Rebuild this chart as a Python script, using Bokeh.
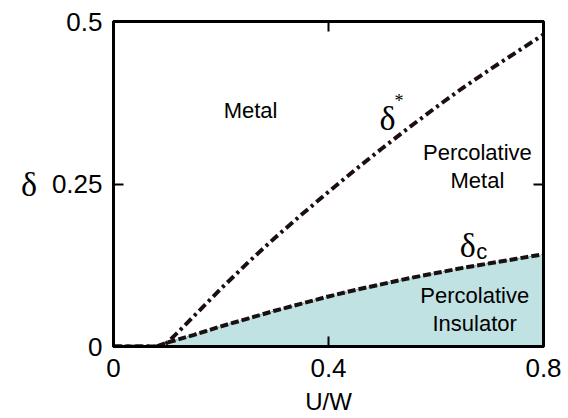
from bokeh.plotting import figure
from bokeh.models import LinearAxis, FixedTicker, Label, Range1d
from bokeh.embed import file_html
from bokeh.resources import INLINE

# ---- data ----
x_star = [0.0, 0.06, 0.09, 0.10, 0.12, 0.15, 0.20, 0.25, 0.30, 0.35, 0.40, 0.45, 0.50,
          0.55, 0.60, 0.65, 0.70, 0.75, 0.80]
d_star = [0.0, 0.0, 0.0, 0.006, 0.022, 0.047, 0.089, 0.129, 0.167, 0.203, 0.238, 0.272, 0.305,
          0.337, 0.368, 0.398, 0.426, 0.453, 0.480]

x_c = [0.0, 0.06, 0.08, 0.10, 0.15, 0.20, 0.25, 0.30, 0.35, 0.40, 0.45, 0.50, 0.55,
       0.60, 0.65, 0.70, 0.75, 0.80]
d_c = [0.0, 0.0, 0.0, 0.006, 0.018, 0.031, 0.043, 0.055, 0.066, 0.077, 0.087, 0.096, 0.105,
       0.113, 0.121, 0.128, 0.135, 0.142]

x_ticks = [0, 0.4, 0.8]
x_tick_labels = ["0", "0.4", "0.8"]
y_ticks = [0, 0.25, 0.5]
y_tick_labels = ["0", "0.25", "0.5"]

region_texts = ["Metal", "Percolative", "Metal", "Percolative", "Insulator"]
region_x = [0.255, 0.677, 0.677, 0.672, 0.672]
region_y = [0.363, 0.298, 0.255, 0.078, 0.035]

SANS = "Liberation Sans"
SERIF = "Liberation Serif"
INK = "#1c0f0f"

p = figure(width=568, height=418, output_backend="svg", toolbar_location=None,
           x_range=Range1d(0, 0.8), y_range=Range1d(0, 0.5),
           min_border_left=113, min_border_right=25, min_border_top=21, min_border_bottom=72)
p.grid.visible = False
p.outline_line_color = "black"
p.outline_line_width = 3
p.background_fill_color = "white"
p.border_fill_color = "white"

# shaded percolative-insulator region
px = [x for x in x_c if x >= 0.08]
py = [d for x, d in zip(x_c, d_c) if x >= 0.08]
poly_x = px + px[::-1]
poly_y = py + [0.0] * len(px)
p.patch(poly_x, poly_y, fill_color="#c0e2e2", line_color="#3a9a9a", line_width=1, line_dash="2 2")

# curves
p.line(x_star, d_star, line_color=INK, line_width=4, line_dash="9 4 3 4")
p.line(x_c, d_c, line_color=INK, line_width=4, line_dash="8 3")

# axes
def style_axis(ax, ticks, labels, show_labels):
    ax.ticker = FixedTicker(ticks=ticks)
    ax.major_tick_in = 10
    ax.major_tick_out = 0
    ax.minor_tick_in = 0
    ax.minor_tick_out = 0
    ax.major_tick_line_width = 2
    ax.axis_line_width = 3
    ax.axis_line_color = "black"
    ax.major_label_overrides = {t: l for t, l in zip(ticks, labels)}
    ax.major_label_text_font = SANS
    ax.major_label_text_color = "black"
    if show_labels:
        ax.major_label_text_font_size = "26px"
    else:
        ax.major_label_text_font_size = "0px"
        ax.major_label_standoff = 0

style_axis(p.xaxis[0], x_ticks, x_tick_labels, True)
style_axis(p.yaxis[0], y_ticks, y_tick_labels, True)
p.xaxis[0].major_label_standoff = 12
p.yaxis[0].major_label_standoff = 11
p.xaxis[0].axis_label = "U/W"
p.xaxis[0].axis_label_text_font = SANS
p.xaxis[0].axis_label_text_font_style = "normal"
p.xaxis[0].axis_label_text_font_size = "24px"
p.xaxis[0].axis_label_text_color = "black"
p.xaxis[0].axis_label_standoff = 8

ya = p.yaxis[0]
ya.axis_label = "δ"
ya.axis_label_text_font = SERIF
ya.axis_label_text_font_style = "normal"
ya.axis_label_text_font_size = "34px"
ya.axis_label_text_color = "black"
ya.axis_label_standoff = 12
try:
    ya.axis_label_orientation = "horizontal"
except Exception:
    pass

top = LinearAxis()
right = LinearAxis()
style_axis(top, x_ticks, ["", "", ""], False)
style_axis(right, y_ticks, ["", "", ""], False)
p.add_layout(top, "above")
p.add_layout(right, "right")

# region labels
for t, xx, yy in zip(region_texts, region_x, region_y):
    p.add_layout(Label(x=xx, y=yy, text=t, text_font=SANS, text_font_size="22px",
                       text_align="center", text_baseline="middle", text_color="black"))

# curve labels
p.add_layout(Label(x=0.51, y=0.351, text="δ", text_font=SERIF, text_font_size="34px",
                   text_align="center", text_baseline="middle", text_color="black"))
p.add_layout(Label(x=0.531, y=0.378, text="*", text_font=SERIF, text_font_size="18px",
                   text_align="center", text_baseline="middle", text_color="black"))
p.add_layout(Label(x=0.659, y=0.155, text="δ", text_font=SERIF, text_font_size="34px",
                   text_align="center", text_baseline="middle", text_color="black"))
p.add_layout(Label(x=0.685, y=0.146, text="c", text_font=SANS, text_font_size="22px",
                   text_align="center", text_baseline="middle", text_color="black"))

open("out.html", "w").write(file_html(p, INLINE))
